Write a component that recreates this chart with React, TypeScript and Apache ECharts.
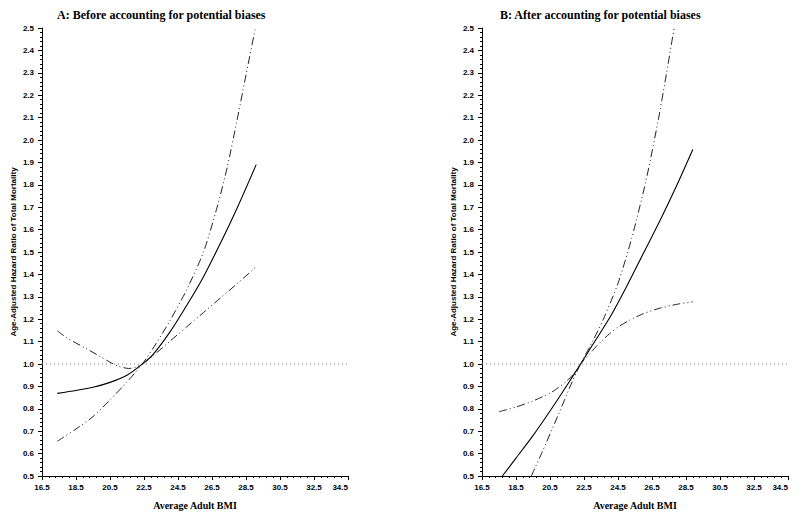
import React, { useEffect, useRef } from "react";
import * as echarts from "echarts";

// ---- Titles / axis text ----
const PANEL_TITLES = [
  "A: Before accounting for potential biases",
  "B: After accounting for potential biases",
];
const X_NAME = "Average Adult BMI";
const Y_NAME = "Age-Adjusted Hazard Ratio of Total Mortality";

// ---- Axis ticks ----
const X_TICKS = [16.5, 18.5, 20.5, 22.5, 24.5, 26.5, 28.5, 30.5, 32.5, 34.5];
const Y_TICKS = [0.5, 0.6, 0.7, 0.8, 0.9, 1.0, 1.1, 1.2, 1.3, 1.4, 1.5, 1.6, 1.7, 1.8, 1.9, 2.0, 2.1, 2.2, 2.3, 2.4, 2.5];
const REFERENCE_HR = 1.0;

// ---- Panel A: before accounting for biases ----
const A_HR_BMI = [17.4, 18.5, 19.5, 20.5, 21.5, 22.4, 23.0, 24.0, 25.0, 26.0, 27.0, 28.0, 29.1];
const A_HR = [0.869, 0.882, 0.896, 0.918, 0.95, 1.0, 1.04, 1.14, 1.26, 1.39, 1.54, 1.7, 1.89];

const A_UPPER_BMI = [17.4, 18.5, 19.5, 20.5, 21.5, 22.4, 23.2, 24.0, 25.0, 26.0, 26.8, 27.4, 27.95, 28.5, 29.05];
const A_UPPER = [0.655, 0.71, 0.765, 0.84, 0.92, 1.0, 1.09, 1.19, 1.33, 1.5, 1.7, 1.88, 2.08, 2.29, 2.5];

const A_LOWER_BMI = [17.4, 18.0, 19.0, 20.0, 20.5, 21.0, 21.6, 22.0, 22.4, 23.0, 24.0, 25.0, 26.0, 27.0, 28.0, 29.1];
const A_LOWER = [1.148, 1.115, 1.073, 1.03, 1.008, 0.99, 0.98, 0.985, 1.0, 1.035, 1.1, 1.165, 1.23, 1.295, 1.36, 1.434];

// ---- Panel B: after accounting for biases ----
const B_HR_BMI = [17.7, 18.5, 19.5, 20.5, 21.5, 22.3, 23.0, 24.0, 25.0, 26.0, 27.0, 28.0, 28.9];
const B_HR = [0.5, 0.58, 0.68, 0.79, 0.905, 1.0, 1.085, 1.205, 1.345, 1.495, 1.645, 1.805, 1.958];

const B_UPPER_BMI = [19.4, 20.0, 21.0, 21.8, 22.3, 23.0, 23.64, 24.5, 25.3, 26.15, 26.87, 27.36, 27.8];
const B_UPPER = [0.5, 0.6, 0.775, 0.92, 1.0, 1.1, 1.2, 1.36, 1.56, 1.82, 2.09, 2.3, 2.5];

const B_LOWER_BMI = [17.5, 18.5, 19.5, 20.5, 21.0, 21.5, 22.0, 22.3, 23.0, 23.5, 24.0, 24.5, 25.2, 26.0, 27.0, 28.0, 28.9];
const B_LOWER = [0.787, 0.808, 0.835, 0.87, 0.895, 0.925, 0.965, 1.0, 1.06, 1.1, 1.135, 1.165, 1.196, 1.225, 1.25, 1.267, 1.278];

const SANS = "'Liberation Sans', Arial, sans-serif";
const SERIF = "'Liberation Serif', 'DejaVu Serif', serif";

function zip(xs: number[], ys: number[]) {
  return xs.map((x, i) => [x, ys[i]]);
}

export default function App() {
  const ref = useRef<HTMLDivElement>(null);

  useEffect(() => {
    document.body.style.margin = "0";
    if (!ref.current) return;
    const chart = echarts.init(ref.current, null, { renderer: "svg" });

    const grids = [
      { left: 42, top: 28, width: 306, height: 448 },
      { left: 482, top: 28, width: 306, height: 448 },
    ];

    const xAxis = grids.map((_, i) => ({
      type: "value",
      gridIndex: i,
      min: X_TICKS[0],
      max: X_TICKS[X_TICKS.length - 1],
      interval: X_TICKS[1] - X_TICKS[0],
      name: X_NAME,
      nameLocation: "middle",
      nameGap: 24,
      nameTextStyle: { fontFamily: SERIF, fontWeight: "bold", fontSize: 10, color: "#000" },
      axisLine: { show: true, onZero: false, lineStyle: { color: "#000", width: 1 } },
      axisTick: { show: true, length: 4, lineStyle: { color: "#000" } },
      minorTick: { show: true, splitNumber: 5, length: 2, lineStyle: { color: "#000" } },
      splitLine: { show: false },
      axisLabel: {
        margin: 7,
        fontFamily: SANS,
        fontWeight: "bold",
        fontSize: 8,
        color: "#000",
        alignMaxLabel: "right",
        formatter: (v: number) => v.toFixed(1),
      },
    }));

    const yAxis = grids.map((_, i) => ({
      type: "value",
      gridIndex: i,
      min: Y_TICKS[0],
      max: Y_TICKS[Y_TICKS.length - 1],
      interval: 0.1,
      name: Y_NAME,
      nameLocation: "middle",
      nameRotate: 90,
      nameGap: 25,
      nameTextStyle: { fontFamily: SANS, fontWeight: "bold", fontSize: 8, color: "#000" },
      axisLine: { show: true, onZero: false, lineStyle: { color: "#000", width: 1 } },
      axisTick: { show: true, length: 4, lineStyle: { color: "#000" } },
      minorTick: { show: true, splitNumber: 5, length: 2, lineStyle: { color: "#000" } },
      splitLine: { show: false },
      axisLabel: {
        margin: 8,
        fontFamily: SANS,
        fontWeight: "bold",
        fontSize: 8,
        color: "#000",
        formatter: (v: number) => v.toFixed(1),
      },
    }));

    const ciStyle = { color: "#222", width: 1, type: [8, 3, 1, 3, 1, 3] };
    const hrStyle = { color: "#000", width: 1.1, type: "solid" };
    const refStyle = { color: "#777", width: 1, type: [1, 3] };

    const mk = (idx: number, data: number[][], lineStyle: any, smooth = true) => ({
      type: "line",
      xAxisIndex: idx,
      yAxisIndex: idx,
      data,
      symbol: "none",
      smooth: smooth ? 0.25 : false,
      silent: true,
      clip: true,
      lineStyle,
    });

    const xMin = X_TICKS[0];
    const xMax = X_TICKS[X_TICKS.length - 1];

    chart.setOption({
      animation: false,
      backgroundColor: "#fff",
      title: [
        {
          text: PANEL_TITLES[0],
          left: 52,
          top: 4,
          textStyle: { fontFamily: SERIF, fontWeight: "bold", fontSize: 12, color: "#000" },
        },
        {
          text: PANEL_TITLES[1],
          left: 495,
          top: 4,
          textStyle: { fontFamily: SERIF, fontWeight: "bold", fontSize: 12, color: "#000" },
        },
      ],
      grid: grids,
      xAxis,
      yAxis,
      series: [
        mk(0, [[xMin, REFERENCE_HR], [xMax, REFERENCE_HR]], refStyle, false),
        mk(0, zip(A_HR_BMI, A_HR), hrStyle),
        mk(0, zip(A_UPPER_BMI, A_UPPER), ciStyle),
        mk(0, zip(A_LOWER_BMI, A_LOWER), ciStyle),
        mk(1, [[xMin, REFERENCE_HR], [xMax, REFERENCE_HR]], refStyle, false),
        mk(1, zip(B_HR_BMI, B_HR), hrStyle),
        mk(1, zip(B_UPPER_BMI, B_UPPER), ciStyle),
        mk(1, zip(B_LOWER_BMI, B_LOWER), ciStyle),
      ],
    });

    return () => chart.dispose();
  }, []);

  return <div ref={ref} style={{ width: 800, height: 515 }} />;
}
